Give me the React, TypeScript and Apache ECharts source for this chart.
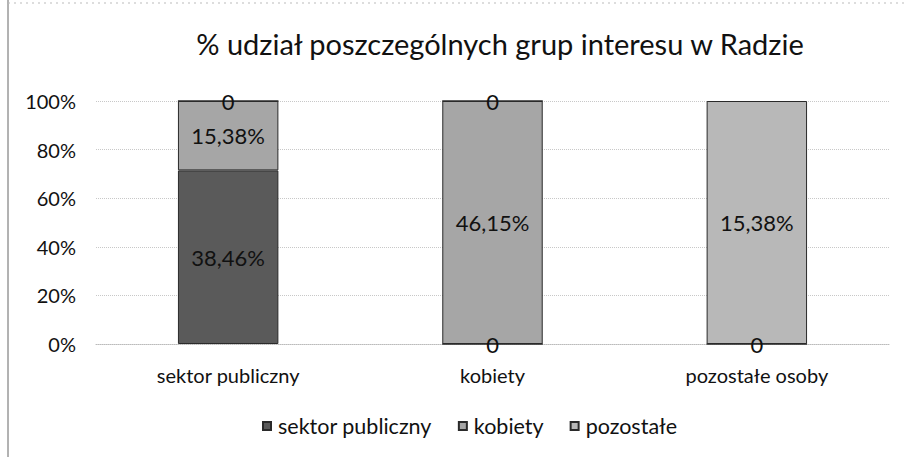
import React, { useEffect, useRef } from "react";
import * as echarts from "echarts";

const categories = ["sektor publiczny", "kobiety", "pozostałe osoby"];
const seriesNames = ["sektor publiczny", "kobiety", "pozostałe"];
const sektorValues: (number | null)[] = [38.46, 0, 0];
const kobietyValues: (number | null)[] = [15.38, 46.15, null];
const pozostaleValues: (number | null)[] = [0, 0, 15.38];
const yTicks = [0, 20, 40, 60, 80, 100];

const colors = ["#5a5a5a", "#a6a6a6", "#b8b8b8"];
const FONT = "Lato";

export default function App() {
  const ref = useRef<HTMLDivElement>(null);
  useEffect(() => {
    if (!ref.current) return;
    const chart = echarts.init(ref.current, undefined, { renderer: "svg" });
    const raw = [sektorValues, kobietyValues, pozostaleValues];
    const totals = categories.map((_, i) =>
      raw.reduce((s, arr) => s + (arr[i] ?? 0), 0)
    );
    const fmt = (v: number) => (v === 0 ? "0" : v.toFixed(2).replace(".", ",") + "%");
    const series = raw.map((arr, si) => ({
      name: seriesNames[si],
      type: "bar",
      stack: "total",
      barWidth: "38%",
      data: arr.map((v, i) =>
        v === null ? null : { value: (v / totals[i]) * 100, raw: v }
      ),
      itemStyle: { color: colors[si], borderColor: "#2a2a2a", borderWidth: 1 },
      label: {
        show: true,
        position: "inside",
        fontFamily: FONT,
        fontSize: 22,
        color: "#111",
        formatter: (p: any) => fmt(p.data.raw),
      },
    }));
    chart.setOption({
      animation: false,
      color: colors,
      title: {
        text: "% udział poszczególnych grup interesu w Radzie",
        left: 495,
        top: 24,
        textAlign: "center",
        textStyle: { fontFamily: FONT, fontSize: 29, fontWeight: "normal", color: "#111" },
      },
      legend: {
        left: 257,
        top: 410,
        itemWidth: 8,
        itemHeight: 8,
        itemGap: 26,
        icon: "rect",
        data: seriesNames,
        textStyle: { fontFamily: FONT, fontSize: 21.5, color: "#111", padding: [0, 0, 0, 2] },
      },
      grid: { left: 96, right: 17, top: 101, bottom: 113 },
      xAxis: {
        type: "category",
        data: categories,
        axisLine: { lineStyle: { color: "#bbb", type: "dotted" } },
        axisTick: { show: false },
        axisLabel: { fontFamily: FONT, fontSize: 20, color: "#111", margin: 21 },
      },
      yAxis: {
        type: "value",
        min: yTicks[0],
        max: yTicks[yTicks.length - 1],
        interval: 20,
        axisLine: { show: false },
        axisTick: { show: false },
        axisLabel: {
          fontFamily: FONT,
          fontSize: 20,
          color: "#111",
          margin: 20,
          formatter: "{value}%",
        },
        splitLine: { lineStyle: { color: "#c8c8c8", type: "dotted" } },
      },
      graphic: [
        { type: "line", shape: { x1: 8, y1: 0, x2: 8, y2: 457 }, style: { stroke: "#666", lineWidth: 1 } },
        { type: "line", shape: { x1: 8, y1: 3, x2: 906, y2: 3 }, style: { stroke: "#bbb", lineWidth: 1, lineDash: [2, 4] } },
      ],
      series,
    });
    return () => chart.dispose();
  }, []);
  return (
    <div
      ref={ref}
      style={{ position: "absolute", left: 0, top: 0, width: 906, height: 457, background: "#fff" }}
    />
  );
}
